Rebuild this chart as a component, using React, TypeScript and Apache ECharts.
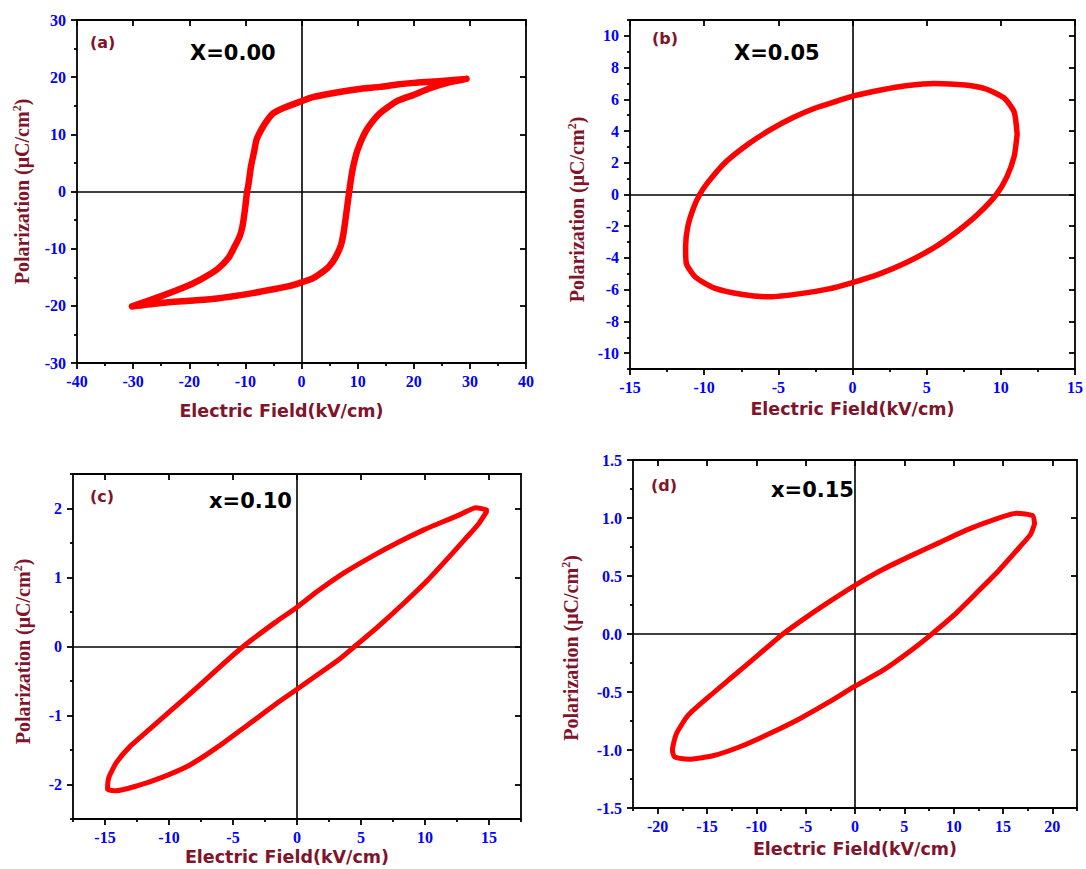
import React, { useEffect, useRef } from "react";
import * as echarts from "echarts";

// ---- Data (E in kV/cm, P in µC/cm²) ----
// (a) X=0.00
const aE = [29.4, 26, 23, 20, 17, 14, 10, 5, 2, 0, -3, -5, -6, -7, -8, -8.5, -9, -9.5, -9.7, -10, -10.5, -11, -12, -13, -15, -18, -21, -25, -30.2,
  -25, -20, -15, -10, -5, -2, 0, 2, 4, 5, 6, 7, 7.5, 8, 8.5, 9, 9.5, 10, 11, 12, 14, 17, 20, 23, 26, 29.4];
const aP = [19.7, 19.4, 19.2, 19.0, 18.7, 18.3, 17.9, 17.1, 16.5, 15.8, 14.7, 13.7, 12.6, 11.1, 9.1, 6.7, 4.4, 0.9, 0, -2.6, -6, -7.8, -9.8, -11.6, -13.6, -15.4, -16.8, -18.3, -20.1,
  -19.5, -19.1, -18.7, -18.0, -17.1, -16.5, -15.9, -15.2, -13.9, -13.0, -11.6, -9.5, -7.2, -3.7, 0, 3.3, 5.6, 7.3, 9.7, 11.4, 13.7, 15.8, 16.9, 18.1, 19.0, 19.7];
// (b) X=0.05
const bE = [11.1, 10.9, 10.2, 9.0, 7.6, 5.5, 3.6, 2, 0, -1, -2.5, -4, -5.5, -7.0, -8.6, -9.8, -10.3, -10.7, -11.1, -11.25, -11.2, -10.6,
  -9.3, -7.4, -5.6, -3.5, -1.6, 0, 1.7, 3.6, 5.5, 7.1, 8.5, 9.7, 10.4, 10.9, 11.1];
const bP = [3.8, 5.2, 6.1, 6.65, 6.9, 7.0, 6.85, 6.6, 6.2, 5.9, 5.45, 4.85, 4.1, 3.2, 2.0, 0.7, 0, -0.8, -2.0, -3.3, -4.35, -5.2,
  -5.9, -6.3, -6.45, -6.25, -5.95, -5.55, -5.05, -4.3, -3.35, -2.3, -1.2, 0, 1.1, 2.4, 3.8];
// (c) x=0.10
const cE = [14.8, 14.0, 12.6, 11.3, 9.9, 7.8, 5.9, 3.7, 1.6, 0, -1.7, -3.3, -4.2, -5.7, -7.6, -9.8, -11.4, -13.0, -14.1, -14.7,
  -14.8, -14.1, -12.5, -10.6, -8.4, -6.3, -3.8, -1.7, 0, 1.6, 3.2, 4.5, 6.4, 8.3, 10.2, 11.8, 13.2, 14.2, 14.8];
const cP = [1.98, 2.01, 1.9, 1.8, 1.69, 1.5, 1.31, 1.07, 0.8, 0.57, 0.35, 0.13, 0, -0.24, -0.56, -0.92, -1.18, -1.44, -1.68, -1.9,
  -2.07, -2.09, -2.02, -1.9, -1.72, -1.47, -1.13, -0.84, -0.62, -0.41, -0.2, 0, 0.3, 0.62, 0.96, 1.28, 1.57, 1.78, 1.95];
// (d) x=0.15
const dE = [18.2, 18.0, 16.4, 13.9, 11.4, 8.6, 5.8, 2.9, 0, -2.4, -4.85, -7.3, -9.8, -12.3, -14.8, -16.9, -18.1, -18.5, -18.3, -16.9,
  -14.4, -11.6, -8.7, -5.6, -2.7, 0, 2.9, 5.4, 7.5, 10.0, 12.5, 14.6, 16.7, 17.8, 18.2];
const dP = [0.95, 1.02, 1.04, 0.98, 0.9, 0.79, 0.68, 0.56, 0.42, 0.29, 0.15, 0, -0.18, -0.36, -0.54, -0.7, -0.86, -1.0, -1.06, -1.08,
  -1.05, -0.97, -0.86, -0.73, -0.59, -0.45, -0.31, -0.16, -0.02, 0.16, 0.37, 0.55, 0.75, 0.86, 0.95];

// ---- Tick values ----
const aXMajor = [-40, -30, -20, -10, 0, 10, 20, 30, 40];
const aXMinor = [-35, -25, -15, -5, 5, 15, 25, 35];
const aYMajor = [-30, -20, -10, 0, 10, 20, 30];
const aYMinor = [-25, -15, -5, 5, 15, 25];
const bXMajor = [-15, -10, -5, 0, 5, 10, 15];
const bXMinor = [-12.5, -7.5, -2.5, 2.5, 7.5, 12.5];
const bYMajor = [-10, -8, -6, -4, -2, 0, 2, 4, 6, 8, 10];
const bYMinor = [-11, -9, -7, -5, -3, -1, 1, 3, 5, 7, 9, 11];
const cXMajor = [-15, -10, -5, 0, 5, 10, 15];
const cXMinor = [-17.5, -12.5, -7.5, -2.5, 2.5, 7.5, 12.5, 17.5];
const cYMajor = [-2, -1, 0, 1, 2];
const cYMinor = [-2.5, -1.5, -0.5, 0.5, 1.5, 2.5];
const dXMajor = [-20, -15, -10, -5, 0, 5, 10, 15, 20];
const dXMinor = [-22.5, -17.5, -12.5, -7.5, -2.5, 2.5, 7.5, 12.5, 17.5, 22.5];
const dYMajor = [-1.5, -1, -0.5, 0, 0.5, 1, 1.5];
const dYMinor = [-1.25, -0.75, -0.25, 0.25, 0.75, 1.25];

const xRanges = [[-40, 40], [-15, 15], [-17.5, 17.5], [-22.5, 22.5]];
const yRanges = [[-30, 30], [-11, 11], [-2.5, 2.5], [-1.5, 1.5]];
const panelTags = ["(a)", "(b)", "(c)", "(d)"];
const compositions = ["X=0.00", "X=0.05", "x=0.10", "x=0.15"];
const xTitle = "Electric Field(kV/cm)";

const RED = "#ff0000";
const WINE = "#80142a";
const BLUE = "#0000ff";
const SERIF = "'Liberation Serif', 'Times New Roman', serif";
const SANS = "'DejaVu Sans', Verdana, sans-serif";

export default function App() {
  const ref = useRef<HTMLDivElement>(null);
  useEffect(() => {
    if (!ref.current) return;
    const chart = echarts.init(ref.current, undefined, { renderer: "svg" });

    const loops = [
      { E: aE, P: aP, xMajor: aXMajor, xMinor: aXMinor, yMajor: aYMajor, yMinor: aYMinor },
      { E: bE, P: bP, xMajor: bXMajor, xMinor: bXMinor, yMajor: bYMajor, yMinor: bYMinor },
      { E: cE, P: cP, xMajor: cXMajor, xMinor: cXMinor, yMajor: cYMajor, yMinor: cYMinor },
      { E: dE, P: dP, xMajor: dXMajor, xMinor: dXMinor, yMajor: dYMajor, yMinor: dYMinor },
    ];
    // layout per panel
    const boxes = [
      { left: 77, top: 20, width: 449, height: 343 },
      { left: 630, top: 20, width: 445, height: 349 },
      { left: 73, top: 474, width: 448, height: 345 },
      { left: 633, top: 460, width: 444, height: 348 },
    ];
    const xNameGap = [39, 31, 29, 32];
    const xNamePad = [[0, 40, 0, 0], [0, 0, 0, 0], [0, 20, 0, 0], [0, 0, 0, 0]];
    const yNameGap = [44, 42, 39, 51];
    const yNamePad = [[0, 0, 0, 0], [0, 30, 0, 0], [0, 10, 0, 0], [0, 28, 0, 0]];
    const yDec = [0, 0, 0, 1];
    const lineW = [6.5, 5.5, 5, 5];
    const tagPos = [[90, 44], [652, 40], [90, 498], [651, 487]];
    const compPos = [[190, 55], [734, 55], [209, 503], [771, 492]];

    const frame = { color: "#000", width: 1.8 };
    const labelStyle = { color: BLUE, fontFamily: SERIF, fontWeight: "bold" as const, fontSize: 16 };

    const grid: any[] = [];
    const xAxis: any[] = [];
    const yAxis: any[] = [];
    const series: any[] = [];
    const graphic: any[] = [];

    loops.forEach((lp, i) => {
      grid.push({ ...boxes[i], containLabel: false, outerBoundsMode: "none" });
      const [xmin, xmax] = xRanges[i];
      const [ymin, ymax] = yRanges[i];
      const common = { type: "value", gridIndex: i, splitLine: { show: false }, minorTick: { show: false }, axisPointer: { show: false } };
      // x: bottom major, bottom minor, top
      xAxis.push({
        ...common, min: xmin, max: xmax, position: "bottom",
        axisLine: { show: true, onZero: false, lineStyle: frame },
        axisTick: { show: true, inside: false, length: 6, customValues: lp.xMajor, lineStyle: frame },
        axisLabel: { show: true, customValues: lp.xMajor, margin: 10, ...labelStyle },
        name: xTitle, nameLocation: "middle", nameGap: xNameGap[i],
        nameTextStyle: { color: WINE, fontFamily: SANS, fontWeight: "bold", fontSize: 17.5, padding: xNamePad[i] },
      });
      xAxis.push({
        ...common, min: xmin, max: xmax, position: "bottom",
        axisLine: { show: false, onZero: false },
        axisTick: { show: true, inside: false, length: 3, customValues: lp.xMinor, lineStyle: frame },
        axisLabel: { show: false },
      });
      xAxis.push({
        ...common, min: xmin, max: xmax, position: "top",
        axisLine: { show: true, onZero: false, lineStyle: frame },
        axisTick: { show: true, inside: true, length: 6, customValues: lp.xMajor, lineStyle: frame },
        axisLabel: { show: false },
      });
      // y: left major, left minor, right
      yAxis.push({
        ...common, min: ymin, max: ymax, position: "left",
        axisLine: { show: true, onZero: false, lineStyle: frame },
        axisTick: { show: true, inside: false, length: 6, customValues: lp.yMajor, lineStyle: frame },
        axisLabel: {
          show: true, customValues: lp.yMajor, margin: 11, ...labelStyle,
          formatter: (v: number) => (yDec[i] ? v.toFixed(yDec[i]) : String(v)),
        },
        name: "{t|Polarization (μC/cm}{s|2}{t|)}",
        nameLocation: "middle", nameRotate: 90, nameGap: yNameGap[i],
        nameTextStyle: {
          padding: yNamePad[i],
          rich: {
            t: { color: WINE, fontFamily: SERIF, fontWeight: "bold", fontSize: 20, lineHeight: 22 },
            s: { color: WINE, fontFamily: SERIF, fontWeight: "bold", fontSize: 12, lineHeight: 12, verticalAlign: "top" },
          },
        },
      });
      yAxis.push({
        ...common, min: ymin, max: ymax, position: "left",
        axisLine: { show: false, onZero: false },
        axisTick: { show: true, inside: false, length: 3, customValues: lp.yMinor, lineStyle: frame },
        axisLabel: { show: false },
      });
      yAxis.push({
        ...common, min: ymin, max: ymax, position: "right",
        axisLine: { show: true, onZero: false, lineStyle: frame },
        axisTick: { show: true, inside: true, length: 6, customValues: lp.yMajor, lineStyle: frame },
        axisLabel: { show: false },
      });

      series.push({
        type: "line",
        xAxisIndex: 3 * i,
        yAxisIndex: 3 * i,
        data: lp.E.map((e, k) => [e, lp.P[k]]),
        symbol: "none",
        showSymbol: false,
        smooth: 0.2,
        lineStyle: { color: RED, width: lineW[i], join: "round", cap: "round" },
        z: 3,
        silent: true,
        markLine: {
          silent: true,
          symbol: ["none", "none"],
          z: 1,
          label: { show: false },
          lineStyle: { color: "#000", width: 1.6, type: "solid" },
          data: [{ xAxis: 0 }, { yAxis: 0 }],
        },
      });

      graphic.push({
        type: "text", left: tagPos[i][0], top: tagPos[i][1] - 10,
        style: { text: panelTags[i], fill: WINE, font: `bold 16px ${SANS}` },
      });
      graphic.push({
        type: "text", left: compPos[i][0], top: compPos[i][1] - 13,
        style: { text: compositions[i], fill: "#000", font: `bold 21px ${SANS}` },
      });
    });

    chart.setOption({
      animation: false,
      backgroundColor: "#fff",
      grid,
      xAxis,
      yAxis,
      series,
      graphic,
    });
    return () => chart.dispose();
  }, []);

  return (
    <div
      ref={ref}
      style={{ position: "fixed", left: 0, top: 0, width: 1086, height: 869, background: "#fff" }}
    />
  );
}
